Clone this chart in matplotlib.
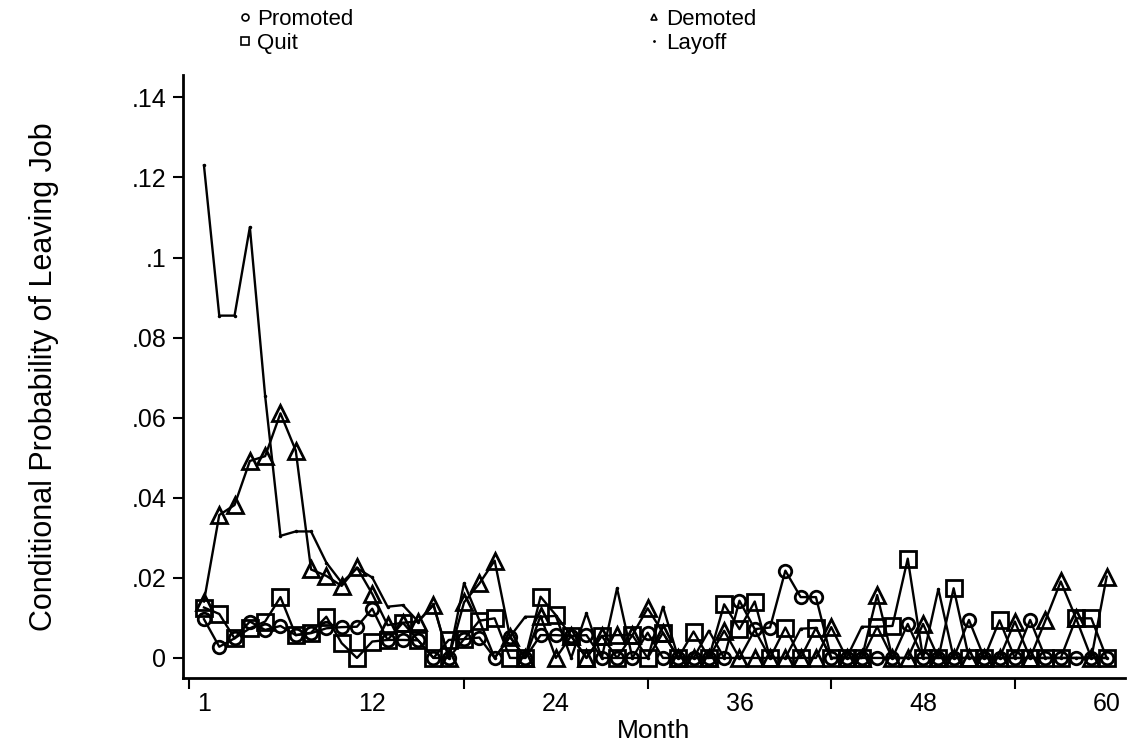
import matplotlib
matplotlib.use("Agg")
import matplotlib.pyplot as plt
from matplotlib.lines import Line2D

plt.rcParams['font.family'] = ['Liberation Sans', 'DejaVu Sans']

months = list(range(1, 61))

promoted = [
    .0097, .0028, .0049, .0091, .0070, .0080, .0057, .0062, .0074, .0077,
    .0078, .0123, .0045, .0045, .0044, 0, 0, .0047, .0051, 0,
    .0053, 0, .0057, .0057, .0055, .0057, 0, 0, 0, .0063,
    0, 0, 0, 0, 0, .0143, .0072, .0076, .0218, .0152,
    .0152, 0, 0, 0, 0, 0, .0085, 0, 0, 0,
    .0095, 0, 0, 0, .0095, 0, 0, 0, 0, 0,
]
demoted = [
    .0141, .0357, .0382, .0492, .0504, .0611, .0518, .0221, .0205, .0180,
    .0226, .0160, .0082, .0088, .0091, .0132, 0, .0139, .0186, .0243,
    .0053, 0, .0105, 0, .0055, 0, .0055, .0057, .0057, .0124,
    .0063, 0, 0, 0, .0068, 0, 0, 0, 0, 0,
    0, .0077, 0, 0, .0157, 0, 0, .0085, 0, 0,
    0, 0, 0, .0091, 0, .0094, .0191, .0099, 0, .0203,
]
quit_ = [
    .0126, .0110, .0049, .0074, .0091, .0152, .0057, .0063, .0103, .0037,
    0, .0041, .0045, .0088, .0044, 0, .0045, .0047, .0093, .0099,
    0, 0, .0153, .0107, .0055, 0, .0055, 0, .0057, 0,
    .0063, 0, .0066, 0, .0134, .0072, .0141, 0, .0076, 0,
    .0075, 0, 0, 0, .0078, .0080, .0248, 0, 0, .0174,
    0, 0, .0094, 0, 0, 0, 0, .0099, .0099, 0,
]
layoff = [
    .1230, .0855, .0855, .1076, .0654, .0305, .0316, .0316, .0238, .0188,
    .0224, .0201, .0128, .0132, .0091, .0134, 0, .0187, .0094, 0,
    .0053, .0103, .0103, .0105, 0, .0112, 0, .0174, 0, 0,
    .0128, 0, 0, .0068, 0, 0, .0070, 0, 0, .0073,
    .0075, 0, 0, .0078, .0078, 0, 0, 0, .0172, 0,
    0, 0, 0, 0, 0, 0, 0, 0, 0, 0,
]

xticks = [1, 12, 24, 36, 48, 60]
yticks = [0, .02, .04, .06, .08, .1, .12, .14]
ytick_labels = ['0', '.02', '.04', '.06', '.08', '.1', '.12', '.14']

fig = plt.figure(figsize=(11.31, 7.47), dpi=100)
ax = fig.add_axes([0.1618, 0.0924, 0.8329, 0.8072])

lw = 1.7
ax.plot(months, promoted, color='black', lw=lw, marker='o', ms=9,
        mfc='none', mec='black', mew=2.0)
ax.plot(months, demoted, color='black', lw=lw, marker='^', ms=11,
        mfc='none', mec='black', mew=2.0)
ax.plot(months, quit_, color='black', lw=lw, marker='s', ms=11.5,
        mfc='none', mec='black', mew=2.0)
ax.plot(months, layoff, color='black', lw=lw, marker='.', ms=3)

ax.set_xlim(-0.37, 61.2)
ax.set_ylim(-0.005, 0.1456)
ax.spines['top'].set_visible(False)
ax.spines['right'].set_visible(False)
ax.spines['left'].set_linewidth(2)
ax.spines['bottom'].set_linewidth(2)

ax.set_xticks(xticks)
ax.set_xticklabels([str(t) for t in xticks], fontsize=18)
ax.set_xticks([0, 18, 30, 42, 54], minor=True)
ax.tick_params(axis='x', which='major', length=0, pad=10)
ax.tick_params(axis='x', which='minor', length=8, width=1.5)
ax.set_yticks(yticks)
ax.set_yticklabels(ytick_labels, fontsize=18)
ax.tick_params(axis='y', length=7, width=1.5, pad=5)

ax.set_xlabel('Month', fontsize=19, labelpad=2)
ax.set_ylabel('Conditional Probability of Leaving Job', fontsize=22,
              labelpad=52)

handles = [
    Line2D([], [], ls='none', marker='o', ms=5, mfc='none', mec='black', mew=1.2),
    Line2D([], [], ls='none', marker='s', ms=6, mfc='none', mec='black', mew=1.2),
    Line2D([], [], ls='none', marker='^', ms=5, mfc='none', mec='black', mew=1.2),
    Line2D([], [], ls='none', marker='.', ms=2, color='black'),
]
labels = ['Promoted', 'Quit', 'Demoted', 'Layoff']
fig.legend(handles, labels, ncol=2, loc='upper left',
           bbox_to_anchor=(0.203, 1.0), frameon=False, fontsize=16,
           handlelength=0.6, handletextpad=0.25, columnspacing=13.2,
           labelspacing=0.15, borderaxespad=0)

fig.savefig('out.png', dpi=100)
